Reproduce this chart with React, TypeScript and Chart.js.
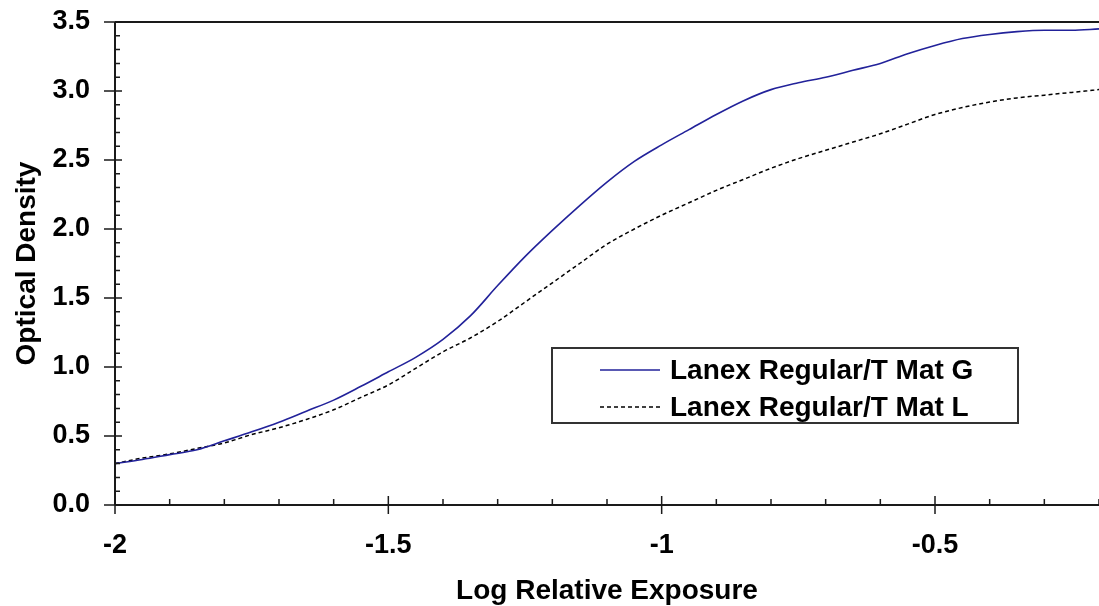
import React, { useEffect, useRef } from "react";
import { Chart, registerables } from "chart.js";
Chart.register(...registerables);

const xValues = [
  -2.0, -1.95, -1.9, -1.85, -1.8, -1.75, -1.7, -1.65, -1.6, -1.55, -1.5, -1.45, -1.4,
  -1.35, -1.3, -1.25, -1.2, -1.15, -1.1, -1.05, -1.0, -0.95, -0.9, -0.85, -0.8, -0.75,
  -0.7, -0.65, -0.6, -0.55, -0.5, -0.45, -0.4, -0.35, -0.3, -0.25, -0.2,
];
const seriesG = [
  0.3, 0.33, 0.365, 0.4, 0.465, 0.53, 0.6, 0.68, 0.76, 0.86, 0.965, 1.07, 1.2,
  1.37, 1.59, 1.8, 1.99, 2.17, 2.34, 2.49, 2.61, 2.72, 2.83, 2.93, 3.01, 3.06,
  3.1, 3.15, 3.2, 3.27, 3.33, 3.38, 3.41, 3.43, 3.44, 3.44, 3.45,
];
const seriesL = [
  0.3, 0.34, 0.37, 0.41, 0.45, 0.51, 0.56, 0.62, 0.69, 0.78, 0.87, 0.99, 1.11,
  1.21, 1.33, 1.47, 1.61, 1.75, 1.89, 2.0, 2.1, 2.19, 2.28, 2.36, 2.44, 2.51,
  2.57, 2.63, 2.69, 2.76, 2.83, 2.88, 2.92, 2.95, 2.97, 2.99, 3.01,
];
const seriesNames = ["Lanex Regular/T Mat G", "Lanex Regular/T Mat L"];
const xTicks = [-2, -1.5, -1, -0.5];
const yTicks = [0, 0.5, 1, 1.5, 2, 2.5, 3, 3.5];
const xTitle = "Log Relative Exposure";
const yTitle = "Optical Density";

const FONT = "'Liberation Sans', Arial, sans-serif";
const BLUE = "#22229a";
const AXIS = "#1a1a1a";

const axesPlugin = {
  id: "excelAxes",
  afterDatasetsDraw(chart: any) {
    const { ctx, chartArea, scales } = chart;
    const xs = scales.x;
    const ys = scales.y;
    const { left, right, top, bottom } = chartArea;
    ctx.save();
    ctx.strokeStyle = AXIS;
    ctx.lineWidth = 2;
    ctx.beginPath();
    ctx.moveTo(left, top);
    ctx.lineTo(right + 5, top);
    ctx.moveTo(left, top);
    ctx.lineTo(left, bottom);
    ctx.moveTo(left, bottom);
    ctx.lineTo(right + 5, bottom);
    ctx.stroke();
    ctx.lineWidth = 1.5;
    ctx.beginPath();
    for (let i = 0; i <= 35; i++) {
      const v = i / 10;
      const p = ys.getPixelForValue(v);
      if (i % 5 === 0) {
        ctx.moveTo(left - 11, p);
        ctx.lineTo(left + 7, p);
      } else {
        ctx.moveTo(left, p);
        ctx.lineTo(left + 5, p);
      }
    }
    for (let i = 0; i <= 20; i++) {
      const v = -2 + i / 10;
      if (v > xs.max + 1e-9) break;
      const p = xs.getPixelForValue(v);
      if (i % 5 === 0) {
        ctx.moveTo(p, bottom - 9);
        ctx.lineTo(p, bottom + 9);
      } else {
        ctx.moveTo(p, bottom - 6);
        ctx.lineTo(p, bottom);
      }
    }
    ctx.stroke();
    ctx.restore();
  },
  afterDraw(chart: any) {
    const { ctx } = chart;
    const bx = 552, by = 348, bw = 466, bh = 75;
    ctx.save();
    ctx.fillStyle = "#ffffff";
    ctx.fillRect(bx, by, bw, bh);
    ctx.strokeStyle = "#333333";
    ctx.lineWidth = 2;
    ctx.strokeRect(bx, by, bw, bh);
    const rows = [by + 22, by + 59];
    chart.data.datasets.forEach((ds: any, i: number) => {
      const y = rows[i];
      ctx.beginPath();
      ctx.strokeStyle = ds.borderColor;
      ctx.lineWidth = ds.borderWidth;
      ctx.setLineDash(ds.borderDash || []);
      ctx.moveTo(bx + 48, y);
      ctx.lineTo(bx + 108, y);
      ctx.stroke();
      ctx.setLineDash([]);
      ctx.fillStyle = "#000";
      ctx.font = `bold 28px ${FONT}`;
      ctx.textAlign = "left";
      ctx.textBaseline = "middle";
      ctx.fillText(ds.label, bx + 118, y + 1);
    });
    ctx.restore();
  },
};

export default function App() {
  const ref = useRef<HTMLCanvasElement | null>(null);
  useEffect(() => {
    if (!ref.current) return;
    const chart = new Chart(ref.current, {
      type: "line",
      data: {
        datasets: [
          {
            label: seriesNames[0],
            data: xValues.map((x, i) => ({ x, y: seriesG[i] })),
            borderColor: BLUE,
            borderWidth: 1.6,
            pointRadius: 0,
            cubicInterpolationMode: "monotone",
            fill: false,
          },
          {
            label: seriesNames[1],
            data: xValues.map((x, i) => ({ x, y: seriesL[i] })),
            borderColor: "#000000",
            borderWidth: 1.5,
            borderDash: [4, 3],
            pointRadius: 0,
            cubicInterpolationMode: "monotone",
            fill: false,
          },
        ],
      },
      options: {
        responsive: false,
        animation: false,
        layout: { padding: { top: 22, right: 0, bottom: 0, left: 0 } },
        plugins: { legend: { display: false }, tooltip: { enabled: false } },
        scales: {
          x: {
            type: "linear",
            min: -2,
            max: -0.2,
            grid: { display: false, drawTicks: false, tickLength: 0 },
            border: { display: false },
            afterBuildTicks: (s: any) => {
              s.ticks = xTicks.map((v) => ({ value: v }));
            },
            afterFit: (s: any) => {
              s.height = 101;
              s.paddingLeft = 0;
              s.paddingRight = 0;
            },
            ticks: {
              padding: 24,
              color: "#000",
              maxRotation: 0,
              autoSkip: false,
              font: { family: FONT, size: 27, weight: "bold" },
              callback: (v: any) => String(v),
            },
            title: {
              display: true,
              text: xTitle,
              color: "#000",
              font: { family: FONT, size: 28, weight: "bold" },
              padding: { top: 0, bottom: -2 },
            },
          },
          y: {
            type: "linear",
            min: 0,
            max: 3.5,
            grid: { display: false, drawTicks: false, tickLength: 0 },
            border: { display: false },
            afterBuildTicks: (s: any) => {
              s.ticks = yTicks.map((v) => ({ value: v }));
            },
            afterFit: (s: any) => {
              s.width = 115;
              s.paddingTop = 0;
              s.paddingBottom = 0;
            },
            ticks: {
              padding: 25,
              color: "#000",
              autoSkip: false,
              font: { family: FONT, size: 27, weight: "bold" },
              callback: (v: any) => Number(v).toFixed(1),
            },
            title: {
              display: true,
              text: yTitle,
              color: "#000",
              font: { family: FONT, size: 28, weight: "bold" },
              padding: { top: 10, bottom: 0 },
            },
          },
        },
      },
      plugins: [axesPlugin],
    } as any);
    return () => chart.destroy();
  }, []);
  return (
    <div style={{ position: "absolute", left: 0, top: 0, width: 1099, height: 606, background: "#fff" }}>
      <canvas ref={ref} width={1099} height={606} style={{ display: "block" }} />
    </div>
  );
}
